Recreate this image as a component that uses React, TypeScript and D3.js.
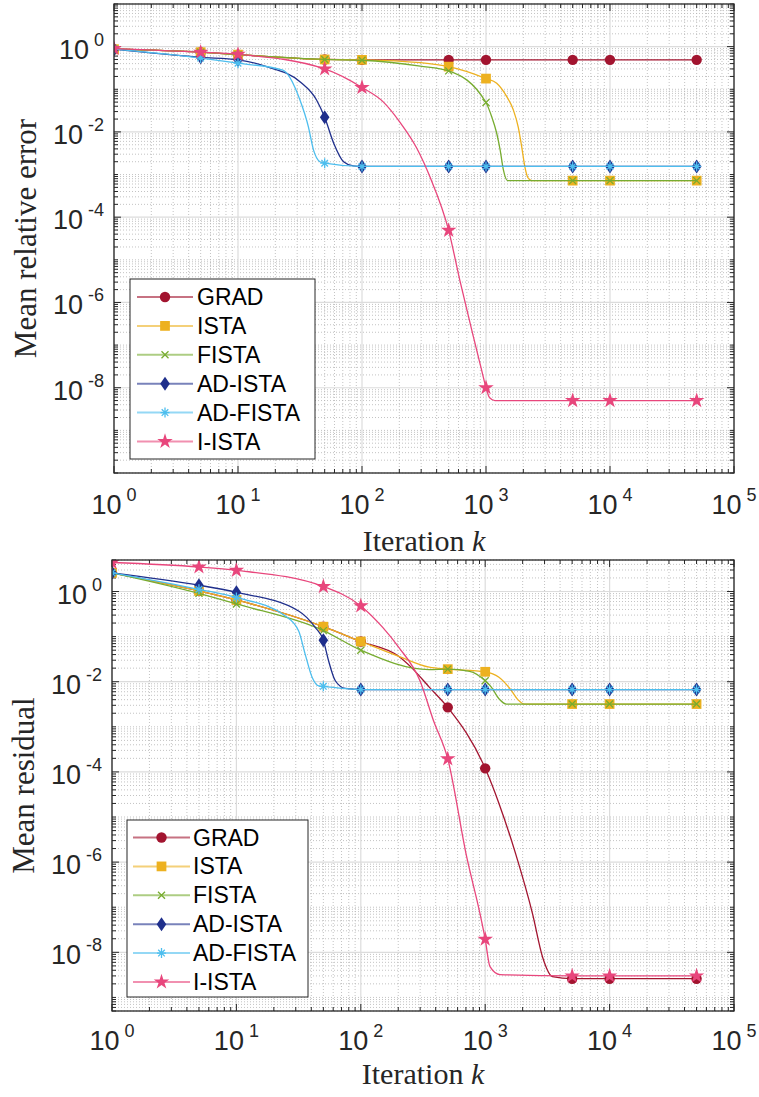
import React from "react";
import * as d3 from "d3";

type Pt = [number, number];

const MARKER_ITERS = [1, 5, 10, 50, 100, 500, 1000, 5000, 10000, 50000];
const SERIES_NAMES = ["GRAD", "ISTA", "FISTA", "AD-ISTA", "AD-FISTA", "I-ISTA"];
const SERIES_COLORS = ["#A2142F", "#EDB120", "#77AC30", "#1F2F8C", "#4DBEEE", "#E8467C"];
const SERIES_MARKERS = ["circle", "square", "x", "diamond", "asterisk", "star"];
const X_TICKS = [1, 10, 100, 1000, 10000, 100000];
const X_TICK_EXP = ["0", "1", "2", "3", "4", "5"];
const Y_TICKS = [1e0, 1e-2, 1e-4, 1e-6, 1e-8];
const Y_TICK_EXP = ["0", "-2", "-4", "-6", "-8"];

// ---- Mean relative error (top panel) ----
const errGRAD: Pt[] = [[1, 0.87], [5, 0.74], [10, 0.65], [50, 0.5], [100, 0.49], [500, 0.49], [1000, 0.49], [5000, 0.49], [10000, 0.49], [50000, 0.49]];
const errISTA: Pt[] = [[1, 0.87], [5, 0.74], [10, 0.65], [50, 0.5], [100, 0.49], [295, 0.42], [500, 0.34], [1000, 0.178], [1220, 0.138], [1470, 0.067], [1660, 0.033], [1820, 0.013], [1940, 4.5e-3], [2060, 1.5e-3], [2190, 8.2e-4], [2340, 7.2e-4], [5000, 7.2e-4], [10000, 7.2e-4], [50000, 7.2e-4]];
const errFISTA: Pt[] = [[1, 0.87], [5, 0.74], [10, 0.65], [50, 0.5], [100, 0.48], [295, 0.35], [500, 0.27], [1000, 0.049], [1110, 0.023], [1220, 9.3e-3], [1300, 3.8e-3], [1380, 1.3e-3], [1490, 7.2e-4], [5000, 7.2e-4], [10000, 7.2e-4], [50000, 7.2e-4]];
const errADISTA: Pt[] = [[1, 0.87], [5, 0.56], [10, 0.49], [17, 0.34], [31.6, 0.15], [43, 0.056], [50, 0.022], [59, 5.5e-3], [71, 2.0e-3], [85, 1.6e-3], [100, 1.55e-3], [500, 1.55e-3], [1000, 1.55e-3], [5000, 1.55e-3], [10000, 1.55e-3], [50000, 1.55e-3]];
const errADFISTA: Pt[] = [[1, 0.87], [5, 0.54], [10, 0.41], [23, 0.28], [31.6, 0.056], [37, 0.013], [40.6, 3.8e-3], [45.8, 2.0e-3], [50, 1.85e-3], [100, 1.55e-3], [500, 1.55e-3], [1000, 1.55e-3], [5000, 1.55e-3], [10000, 1.55e-3], [50000, 1.55e-3]];
const errIISTA: Pt[] = [[1, 0.9], [5, 0.74], [10, 0.66], [50, 0.3], [100, 0.11], [149, 0.05], [202, 0.017], [276, 4.2e-3], [355, 8.5e-4], [500, 4.9e-5], [614, 3.4e-6], [790, 1.6e-7], [922, 2.6e-8], [1000, 1.0e-8], [1070, 5.8e-9], [1180, 5.0e-9], [5000, 5.0e-9], [10000, 5.0e-9], [50000, 5.0e-9]];

// ---- Mean residual (bottom panel) ----
const resGRAD: Pt[] = [[1, 2.6], [5, 1.03], [10, 0.65], [50, 0.166], [100, 0.078], [200, 0.037], [258, 0.02], [355, 7.6e-3], [500, 2.7e-3], [1000, 1.2e-4], [1290, 2.0e-5], [1760, 1.5e-6], [2400, 7.2e-8], [2890, 7.9e-9], [3470, 2.9e-9], [5000, 2.6e-9], [10000, 2.6e-9], [50000, 2.6e-9]];
const resISTA: Pt[] = [[1, 2.6], [5, 1.03], [10, 0.65], [50, 0.166], [100, 0.078], [200, 0.037], [355, 0.021], [500, 0.019], [1000, 0.0166], [1290, 0.0126], [1630, 6.3e-3], [1830, 4.0e-3], [2080, 3.2e-3], [5000, 3.2e-3], [10000, 3.2e-3], [50000, 3.2e-3]];
const resFISTA: Pt[] = [[1, 2.6], [5, 0.91], [10, 0.53], [50, 0.136], [100, 0.05], [355, 0.0186], [500, 0.019], [750, 0.017], [1000, 0.0105], [1120, 7.6e-3], [1290, 4.2e-3], [1480, 3.2e-3], [5000, 3.2e-3], [10000, 3.2e-3], [50000, 3.2e-3]];
const resADISTA: Pt[] = [[1, 2.6], [5, 1.38], [10, 0.96], [31.6, 0.37], [43, 0.16], [50, 0.083], [55, 0.0295], [62.4, 0.0105], [75, 7.1e-3], [100, 6.7e-3], [500, 6.7e-3], [1000, 6.7e-3], [5000, 6.7e-3], [10000, 6.7e-3], [50000, 6.7e-3]];
const resADFISTA: Pt[] = [[1, 2.6], [5, 1.12], [10, 0.74], [24.6, 0.29], [31.6, 0.135], [35.7, 0.041], [40.6, 0.0126], [45.8, 8.1e-3], [50, 7.9e-3], [100, 6.7e-3], [500, 6.7e-3], [1000, 6.7e-3], [5000, 6.7e-3], [10000, 6.7e-3], [50000, 6.7e-3]];
const resIISTA: Pt[] = [[1, 4.4], [5, 3.5], [10, 2.95], [50, 1.29], [100, 0.48], [150, 0.16], [202, 0.058], [299, 0.0105], [383, 1.4e-3], [500, 1.95e-4], [710, 1.3e-6], [908, 7.2e-8], [1000, 1.95e-8], [1093, 4.8e-9], [1315, 3.2e-9], [5000, 3.0e-9], [10000, 3.0e-9], [50000, 3.0e-9]];

const ERR_SERIES = [errGRAD, errISTA, errFISTA, errADISTA, errADFISTA, errIISTA];
const RES_SERIES = [resGRAD, resISTA, resFISTA, resADISTA, resADFISTA, resIISTA];

const SANS = "'Liberation Sans', Arial, Helvetica, sans-serif";
const SERIF = "'Liberation Serif', 'Times New Roman', serif";
const AXIS_COLOR = "#262626";

function Marker({ kind, color, cx, cy }: { kind: string; color: string; cx: number; cy: number }) {
  const t = `translate(${cx},${cy})`;
  if (kind === "circle") return <path transform={t} d={d3.symbol(d3.symbolCircle, 85)()!} fill={color} />;
  if (kind === "square") return <path transform={t} d={d3.symbol(d3.symbolSquare, 95)()!} fill={color} />;
  if (kind === "star") return <path transform={t} d={d3.symbol(d3.symbolStar, 75)()!} fill={color} />;
  if (kind === "diamond") return <path transform={t} d="M0,-7L4.8,0L0,7L-4.8,0Z" fill={color} />;
  if (kind === "x")
    return <path transform={t} d="M-3.5,-3.5L3.5,3.5M-3.5,3.5L3.5,-3.5" stroke={color} strokeWidth={1.3} fill="none" />;
  // asterisk
  return (
    <path transform={t} d="M0,-5L0,5M-4.5,0L4.5,0M-3.3,-3.3L3.3,3.3M-3.3,3.3L3.3,-3.3" stroke={color} strokeWidth={1.3} fill="none" />
  );
}

type PanelProps = {
  id: string;
  left: number;
  right: number;
  top: number;
  bottom: number;
  yDomain: [number, number];
  series: Pt[][];
  yLabel: string;
  yLabelX: number;
  xLabelY: number;
  xTickDy: number;
  legend: { x: number; y: number; w: number; h: number; row0: number; gap: number; lineX0: number; lineX1: number; textX: number };
};

function Panel(p: PanelProps) {
  const x = d3.scaleLog().domain([1, 1e5]).range([p.left, p.right]);
  const y = d3.scaleLog().domain(p.yDomain).range([p.bottom, p.top]);
  const line = d3
    .line<Pt>()
    .x((d) => x(d[0]))
    .y((d) => y(d[1]))
    .curve(d3.curveMonotoneX);

  const xMinor: number[] = [];
  for (let e = 0; e < 5; e++) for (let m = 2; m <= 9; m++) xMinor.push(m * Math.pow(10, e));
  const yMinor: number[] = [];
  const e0 = Math.floor(Math.log10(p.yDomain[0]));
  const e1 = Math.ceil(Math.log10(p.yDomain[1]));
  for (let e = e0; e <= e1; e++)
    for (let m = 1; m <= 9; m++) {
      const v = m * Math.pow(10, e);
      if (v < p.yDomain[0] * 0.999 || v > p.yDomain[1] * 1.001) continue;
      if (m === 1 && Y_TICKS.some((t) => Math.abs(Math.log10(t) - e) < 1e-9)) continue;
      yMinor.push(v);
    }
  const cx = (p.left + p.right) / 2;
  const cy = (p.top + p.bottom) / 2;
  const clipId = `clip-${p.id}`;

  return (
    <g>
      <defs>
        <clipPath id={clipId}>
          <rect x={p.left} y={p.top} width={p.right - p.left} height={p.bottom - p.top} />
        </clipPath>
      </defs>
      <rect x={p.left} y={p.top} width={p.right - p.left} height={p.bottom - p.top} fill="#fff" />
      {/* minor grid */}
      {xMinor.map((v, i) => (
        <line key={`xm${i}`} x1={x(v)} x2={x(v)} y1={p.top} y2={p.bottom} stroke="#b4b4b4" strokeWidth={0.8} strokeDasharray="1 2" />
      ))}
      {yMinor.map((v, i) => (
        <line key={`ym${i}`} x1={p.left} x2={p.right} y1={y(v)} y2={y(v)} stroke="#b4b4b4" strokeWidth={0.8} strokeDasharray="1 2" />
      ))}
      {/* major grid */}
      {X_TICKS.map((v, i) => (
        <line key={`xg${i}`} x1={x(v)} x2={x(v)} y1={p.top} y2={p.bottom} stroke="#dcdcdc" strokeWidth={1.2} />
      ))}
      {Y_TICKS.map((v, i) => (
        <line key={`yg${i}`} x1={p.left} x2={p.right} y1={y(v)} y2={y(v)} stroke="#dcdcdc" strokeWidth={1.2} />
      ))}
      {/* ticks */}
      {xMinor.map((v, i) => (
        <g key={`xmt${i}`} stroke={AXIS_COLOR} strokeWidth={1}>
          <line x1={x(v)} x2={x(v)} y1={p.bottom} y2={p.bottom - 4} />
          <line x1={x(v)} x2={x(v)} y1={p.top} y2={p.top + 4} />
        </g>
      ))}
      {X_TICKS.map((v, i) => (
        <g key={`xt${i}`} stroke={AXIS_COLOR} strokeWidth={1}>
          <line x1={x(v)} x2={x(v)} y1={p.bottom} y2={p.bottom - 7} />
          <line x1={x(v)} x2={x(v)} y1={p.top} y2={p.top + 7} />
        </g>
      ))}
      {yMinor.map((v, i) => (
        <g key={`ymt${i}`} stroke={AXIS_COLOR} strokeWidth={1}>
          <line x1={p.left} x2={p.left + 4} y1={y(v)} y2={y(v)} />
          <line x1={p.right} x2={p.right - 4} y1={y(v)} y2={y(v)} />
        </g>
      ))}
      {Y_TICKS.map((v, i) => (
        <g key={`yt${i}`} stroke={AXIS_COLOR} strokeWidth={1}>
          <line x1={p.left} x2={p.left + 7} y1={y(v)} y2={y(v)} />
          <line x1={p.right} x2={p.right - 7} y1={y(v)} y2={y(v)} />
        </g>
      ))}
      {/* series */}
      <g clipPath={`url(#${clipId})`}>
        {p.series.map((s, i) => (
          <g key={`s${i}`}>
            <path d={line(s)!} fill="none" stroke={SERIES_COLORS[i]} strokeWidth={1.3} />
            {s
              .filter((d) => MARKER_ITERS.includes(d[0]))
              .map((d, j) => (
                <Marker key={j} kind={SERIES_MARKERS[i]} color={SERIES_COLORS[i]} cx={x(d[0])} cy={y(d[1])} />
              ))}
          </g>
        ))}
      </g>
      {/* box */}
      <rect x={p.left} y={p.top} width={p.right - p.left} height={p.bottom - p.top} fill="none" stroke={AXIS_COLOR} strokeWidth={1.3} />
      {/* x tick labels */}
      {X_TICKS.map((v, i) => (
        <text key={`xl${i}`} x={x(v)} y={p.bottom + p.xTickDy} textAnchor="middle" fontFamily={SANS} fontSize={27} fill={AXIS_COLOR}>
          10
          <tspan dx={5} dy={-13} fontSize={18}>
            {X_TICK_EXP[i]}
          </tspan>
        </text>
      ))}
      {/* y tick labels */}
      {Y_TICKS.map((v, i) => (
        <text key={`yl${i}`} x={p.left - 10} y={y(v) + 12} textAnchor="end" fontFamily={SANS} fontSize={27} fill={AXIS_COLOR}>
          10
          <tspan dx={5} dy={-13} fontSize={18}>
            {Y_TICK_EXP[i]}
          </tspan>
        </text>
      ))}
      {/* axis labels */}
      <text x={cx} y={p.xLabelY} textAnchor="middle" fontFamily={SERIF} fontSize={30} fill={AXIS_COLOR}>
        Iteration <tspan fontStyle="italic">k</tspan>
      </text>
      <text
        transform={`translate(${p.yLabelX},${cy}) rotate(-90)`}
        textAnchor="middle"
        fontFamily={SERIF}
        fontSize={31}
        fill={AXIS_COLOR}
      >
        {p.yLabel}
      </text>
      {/* legend */}
      <rect x={p.legend.x} y={p.legend.y} width={p.legend.w} height={p.legend.h} fill="#fff" stroke={AXIS_COLOR} strokeWidth={1} />
      {SERIES_NAMES.map((name, i) => {
        const ry = p.legend.row0 + i * p.legend.gap;
        const mx = (p.legend.lineX0 + p.legend.lineX1) / 2;
        return (
          <g key={`lg${i}`}>
            <line x1={p.legend.lineX0} x2={p.legend.lineX1} y1={ry} y2={ry} stroke={SERIES_COLORS[i]} strokeWidth={2} strokeOpacity={0.6} />
            <Marker kind={SERIES_MARKERS[i]} color={SERIES_COLORS[i]} cx={mx} cy={ry} />
            <text x={p.legend.textX} y={ry + 8} fontFamily={SANS} fontSize={23} fill="#000">
              {name}
            </text>
          </g>
        );
      })}
    </g>
  );
}

export default function App() {
  return (
    <svg
      width={759}
      height={1097}
      viewBox="0 0 759 1097"
      style={{ position: "absolute", left: 0, top: 0, background: "#fff" }}
    >
      <rect x={0} y={0} width={759} height={1097} fill="#fff" />
      <Panel
        id="err"
        left={114}
        right={734}
        top={4}
        bottom={473}
        yDomain={[1e-10, 1e1]}
        series={ERR_SERIES}
        yLabel="Mean relative error"
        yLabelX={36}
        xLabelY={551}
        xTickDy={41}
        legend={{ x: 130, y: 279, w: 185, h: 180, row0: 297, gap: 28.9, lineX0: 137, lineX1: 193, textX: 197 }}
      />
      <Panel
        id="res"
        left={112}
        right={734}
        top={560}
        bottom={1011}
        yDomain={[5e-10, 5]}
        series={RES_SERIES}
        yLabel="Mean residual"
        yLabelX={34}
        xLabelY={1084}
        xTickDy={39}
        legend={{ x: 127, y: 820, w: 181, h: 177, row0: 837.5, gap: 28.9, lineX0: 133, lineX1: 190, textX: 193 }}
      />
    </svg>
  );
}
